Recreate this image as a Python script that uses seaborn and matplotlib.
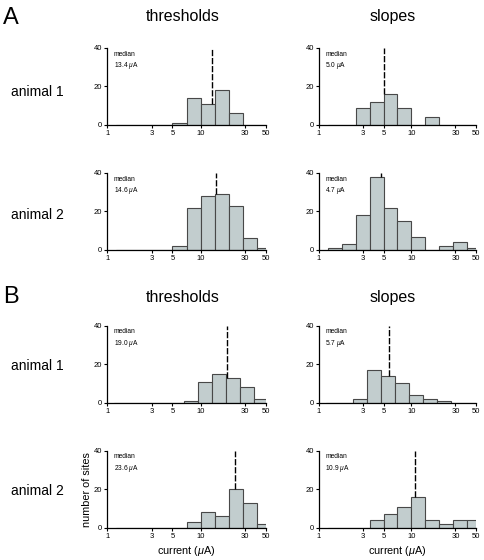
import numpy as np
import pandas as pd
import matplotlib
matplotlib.use("Agg")
import matplotlib.pyplot as plt
import seaborn as sns
from matplotlib.ticker import NullLocator

sns.set_style("ticks")
plt.rcParams["font.family"] = ["Liberation Sans", "DejaVu Sans"]
plt.rcParams["mathtext.fontset"] = "custom"
plt.rcParams["mathtext.it"] = "Liberation Sans:italic"
plt.rcParams["mathtext.rm"] = "Liberation Sans"
for k in ("text.color", "axes.labelcolor", "xtick.color", "ytick.color"):
    plt.rcParams[k] = "black"

# ---- data ----
# bin edges (µA), log-spaced by sqrt(2)
bin_edges = [1.25, 1.768, 2.5, 3.536, 5.0, 7.071, 10.0, 14.14, 20.0, 28.28, 40.0, 56.57]
b1_bin_edges = [1.18, 1.67, 2.36, 3.34, 4.72, 6.68, 9.44, 13.35, 18.88, 26.7, 37.8, 53.4]

a1_thr_counts = [0, 0, 0, 0, 1, 14, 11, 18, 6, 0, 0]
a1_slp_counts = [0, 0, 9, 12, 16, 9, 0, 4, 0, 0, 0]
a2_thr_counts = [0, 0, 0, 0, 2, 22, 28, 29, 23, 6, 1]
a2_slp_counts = [1, 3, 18, 38, 22, 15, 7, 0, 2, 4, 1]
b1_thr_counts = [0, 0, 0, 0, 0, 1, 11, 15, 13, 8, 2]
b1_slp_counts = [0, 0, 2, 17, 14, 10, 4, 2, 1, 0, 0]
b2_thr_counts = [0, 0, 0, 0, 0, 3, 8, 6, 20, 13, 2]
b2_slp_counts = [0, 0, 0, 4, 7, 11, 16, 4, 2, 4, 4]

medians = {"a1_thr": 13.4, "a1_slp": 5.0, "a2_thr": 14.6, "a2_slp": 4.7,
           "b1_thr": 19.0, "b1_slp": 5.7, "b2_thr": 23.6, "b2_slp": 10.9}

x_ticks = [1, 3, 5, 10, 30, 50]
x_ticklabels = ["1", "3", "5", "10", "30", "50"]
y_ticks = [0, 20, 40]

# ---- figure ----
fig = plt.figure(figsize=(4.84, 5.6), dpi=100)

fill = "#c2cdce"
edge = "#484848"

left_l, left_w = 0.2217, 0.3273
right_l, right_w = 0.659, 0.3244
h = 0.1375
bottoms = {"a1": 0.7768, "a2": 0.5536, "b1": 0.2809, "b2": 0.0577}

panels = [
    ("a1_thr", a1_thr_counts, bin_edges, left_l, left_w, bottoms["a1"]),
    ("a1_slp", a1_slp_counts, bin_edges, right_l, right_w, bottoms["a1"]),
    ("a2_thr", a2_thr_counts, bin_edges, left_l, left_w, bottoms["a2"]),
    ("a2_slp", a2_slp_counts, bin_edges, right_l, right_w, bottoms["a2"]),
    ("b1_thr", b1_thr_counts, b1_bin_edges, left_l, left_w, bottoms["b1"]),
    ("b1_slp", b1_slp_counts, b1_bin_edges, right_l, right_w, bottoms["b1"]),
    ("b2_thr", b2_thr_counts, bin_edges, left_l, left_w, bottoms["b2"]),
    ("b2_slp", b2_slp_counts, bin_edges, right_l, right_w, bottoms["b2"]),
]

axes = {}
for key, counts, edges, l, w, b in panels:
    ax = fig.add_axes([l, b, w, h])
    edges_arr = np.array(edges)
    centers = np.sqrt(edges_arr[:-1] * edges_arr[1:])
    log_bins = [float(v) for v in np.log10(edges_arr)]
    df = pd.DataFrame({"current": centers, "n": np.asarray(counts, dtype=float)})
    sns.histplot(data=df, x="current", weights="n", bins=log_bins,
                 log_scale=True, ax=ax, color=fill, edgecolor=edge, alpha=1,
                 linewidth=0.8)
    ax.set_xlim(1, 50)
    ax.set_ylim(0, 40)
    ax.set_xticks(x_ticks)
    ax.set_xticklabels(x_ticklabels)
    ax.xaxis.set_minor_locator(NullLocator())
    ax.set_yticks(y_ticks)
    ax.set_ylabel("")
    ax.set_xlabel("")
    ax.tick_params(axis="both", labelsize=5.5, length=2.2, width=0.8, pad=1.5,
                   colors="black")
    for s in ("left", "bottom"):
        ax.spines[s].set_linewidth(0.9)
        ax.spines[s].set_color("black")
    sns.despine(ax=ax)
    m = medians[key]
    idx = np.searchsorted(edges_arr, m, side="right") - 1
    hh = counts[idx]
    ax.vlines(m, hh, 40, colors="black", linewidth=1.0, linestyles=(0, (4.5, 1.3)))
    ax.text(0.04, 0.965, "median\n%.1f $\\mu$A" % m, transform=ax.transAxes,
            fontsize=4.8, va="top", ha="left", linespacing=1.35)
    axes[key] = ax

axes["b2_thr"].set_ylabel("number of sites", fontsize=7.8, labelpad=1)
axes["b2_thr"].set_xlabel("current ($\\mu$A)", fontsize=7.8, labelpad=3)
axes["b2_slp"].set_xlabel("current ($\\mu$A)", fontsize=7.8, labelpad=3)

# panel letters & headers
fig.text(0.006, 0.968, "A", fontsize=17, va="center", ha="left")
fig.text(0.006, 0.470, "B", fontsize=17, va="center", ha="left")
for y in (0.970, 0.468):
    fig.text(0.378, y, "thresholds", fontsize=11.5, ha="center", va="center")
    fig.text(0.812, y, "slopes", fontsize=11.5, ha="center", va="center")
for y, lab in ((0.836, "animal 1"), (0.616, "animal 2"),
               (0.346, "animal 1"), (0.123, "animal 2")):
    fig.text(0.077, y, lab, fontsize=10, ha="center", va="center")

fig.savefig("out.png", dpi=100)
